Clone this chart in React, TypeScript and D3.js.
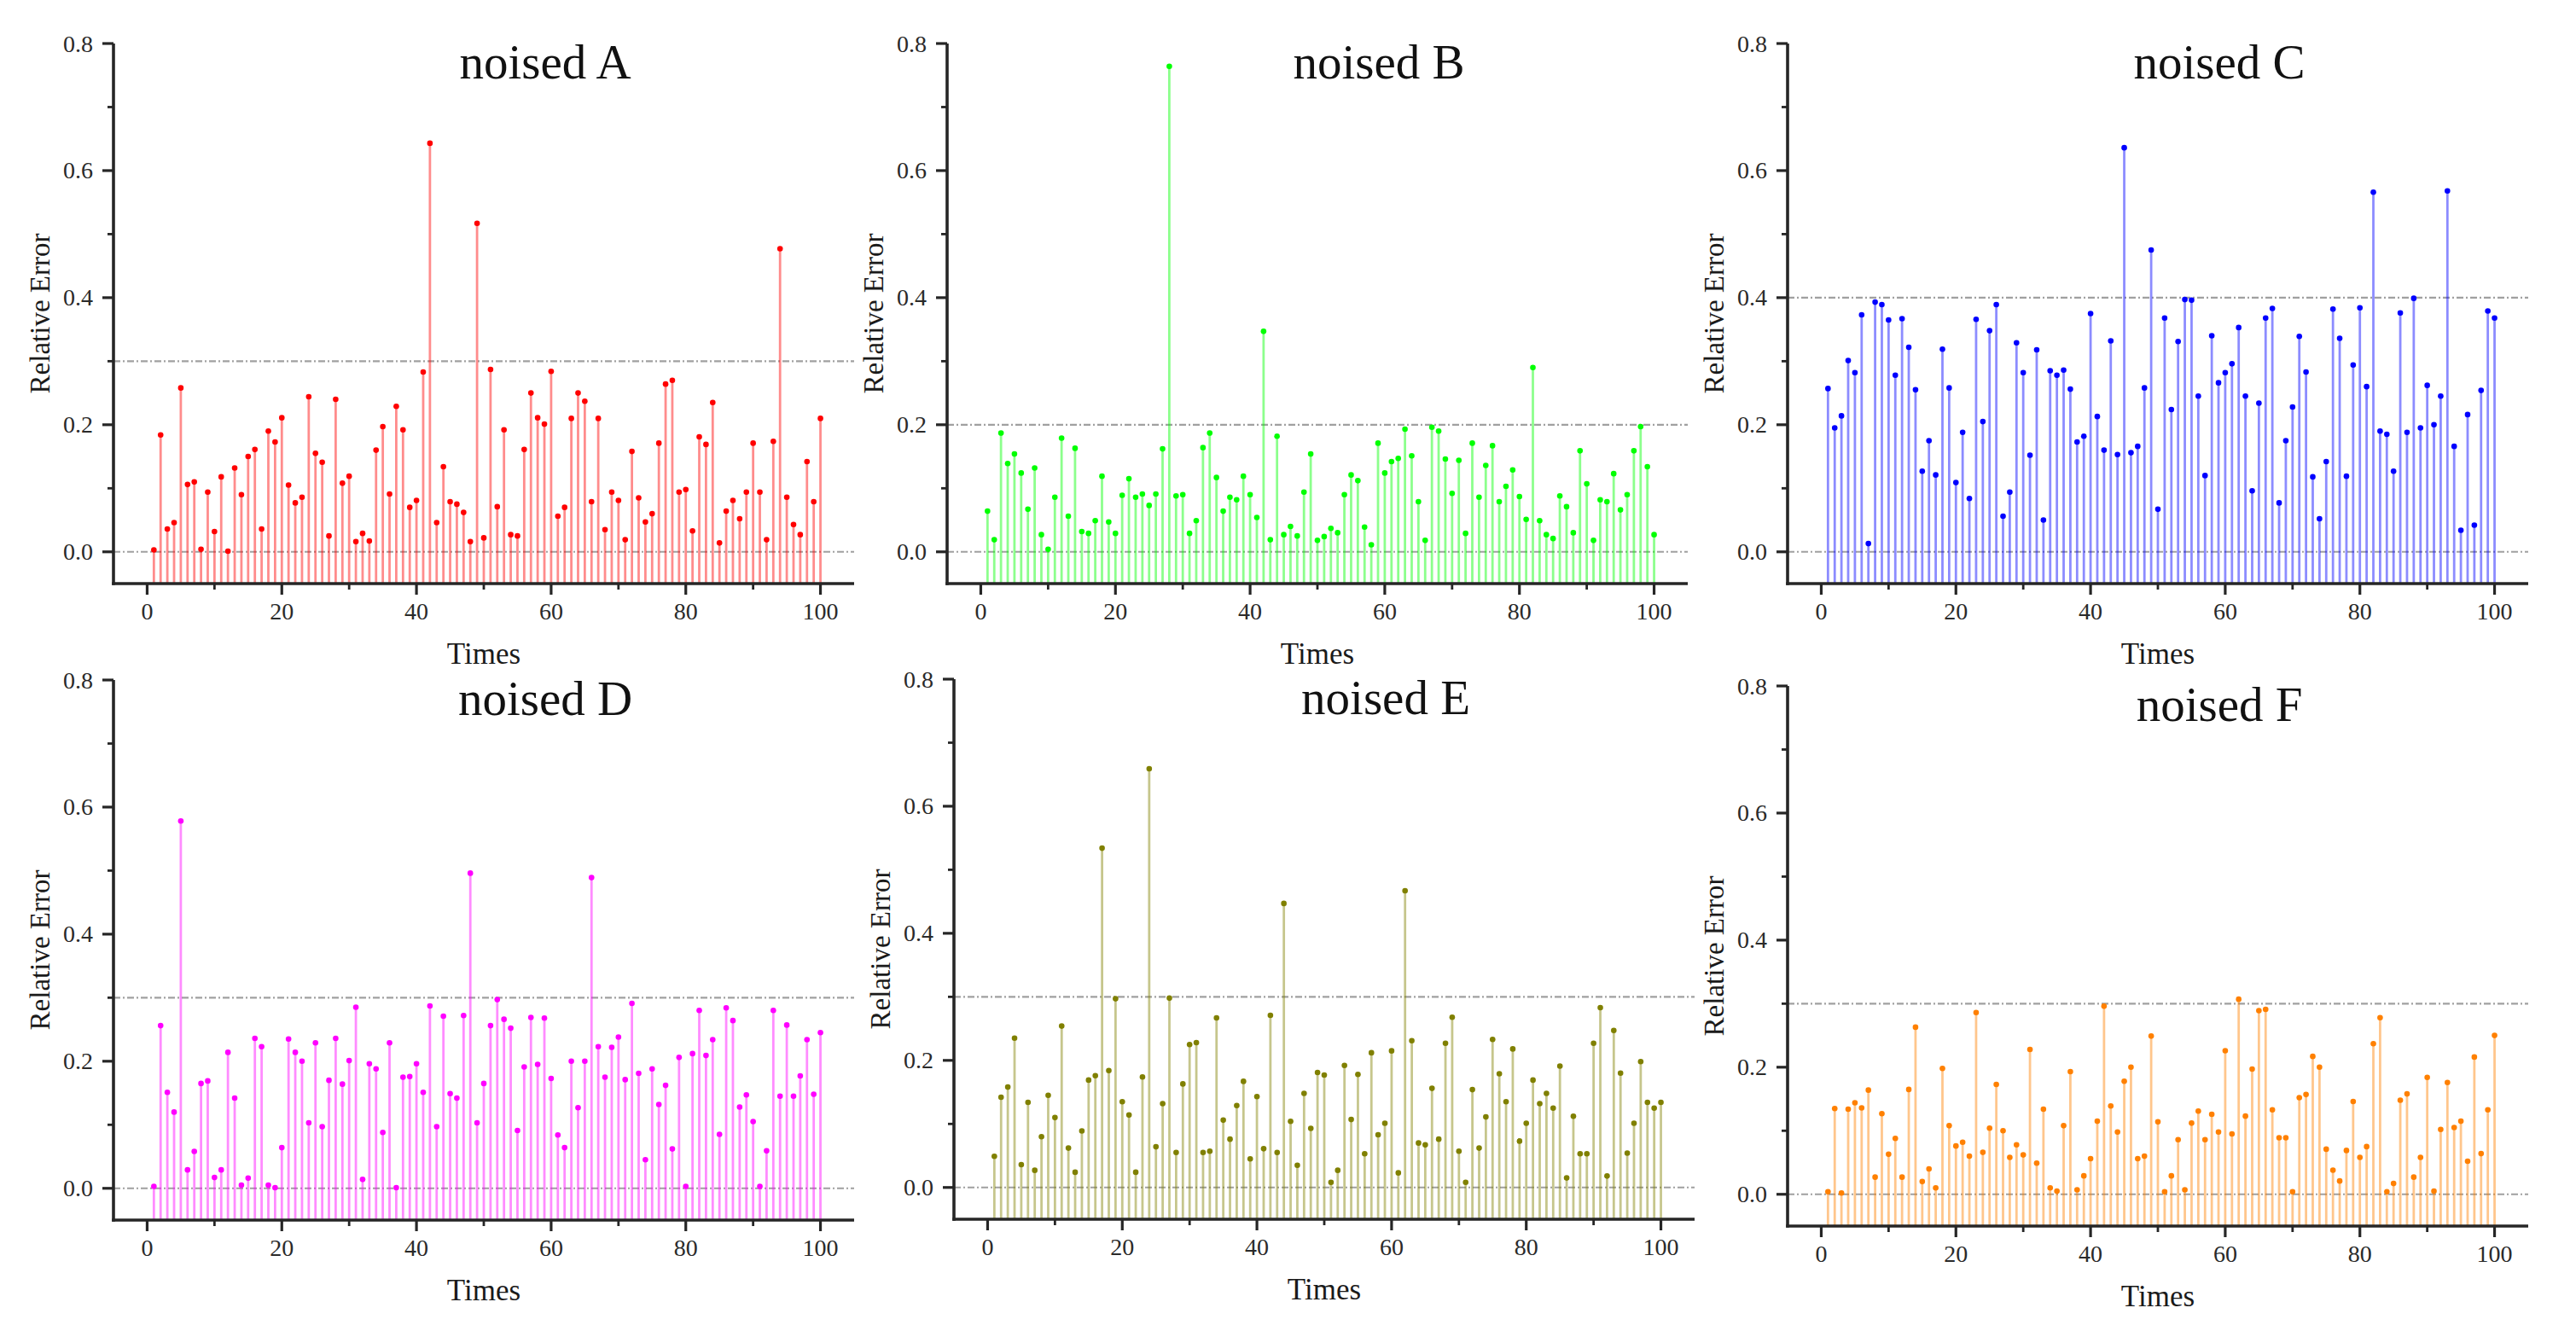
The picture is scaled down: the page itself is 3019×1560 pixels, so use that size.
import React from "react";
import * as d3 from "d3";

const times = d3.range(1, 101);

const titles = ["noised A", "noised B", "noised C", "noised D", "noised E", "noised F"];
const colors = ["#FF0000", "#00FF00", "#0000FF", "#FF00FF", "#808000", "#FF8000"];
const thresholds = [0.3, 0.2, 0.4, 0.3, 0.3, 0.3];
const yTicks = [0, 0.2, 0.4, 0.6, 0.8];
const yMinorTicks = [0.1, 0.3, 0.5, 0.7];
const xTicks = [0, 20, 40, 60, 80, 100];
const xMinorTicks = [10, 30, 50, 70, 90];

const seriesA = [
  0.003, 0.184, 0.036, 0.046, 0.258, 0.106, 0.110, 0.004, 0.094, 0.032,
  0.118, 0.001, 0.132, 0.090, 0.150, 0.161, 0.036, 0.190, 0.173, 0.211,
  0.105, 0.077, 0.086, 0.244, 0.155, 0.141, 0.025, 0.240, 0.108, 0.119,
  0.016, 0.029, 0.017, 0.160, 0.197, 0.091, 0.229, 0.192, 0.070, 0.081,
  0.283, 0.643, 0.046, 0.134, 0.079, 0.075, 0.062, 0.016, 0.517, 0.022,
  0.287, 0.071, 0.192, 0.027, 0.025, 0.161, 0.250, 0.211, 0.201, 0.284,
  0.056, 0.070, 0.210, 0.250, 0.237, 0.079, 0.210, 0.035, 0.094, 0.081,
  0.019, 0.158, 0.085, 0.047, 0.060, 0.171, 0.264, 0.270, 0.094, 0.098,
  0.033, 0.181, 0.169, 0.235, 0.014, 0.064, 0.081, 0.052, 0.094, 0.171,
  0.094, 0.019, 0.174, 0.477, 0.086, 0.043, 0.027, 0.142, 0.079, 0.210,
];

const seriesB = [
  0.064, 0.019, 0.187, 0.139, 0.154, 0.124, 0.067, 0.132, 0.027, 0.004,
  0.086, 0.179, 0.056, 0.163, 0.032, 0.029, 0.049, 0.119, 0.047, 0.029,
  0.089, 0.115, 0.086, 0.091, 0.073, 0.091, 0.162, 0.764, 0.088, 0.090,
  0.029, 0.049, 0.164, 0.187, 0.117, 0.064, 0.086, 0.082, 0.119, 0.090,
  0.054, 0.347, 0.019, 0.182, 0.027, 0.040, 0.025, 0.094, 0.154, 0.018,
  0.024, 0.037, 0.030, 0.090, 0.121, 0.112, 0.039, 0.011, 0.171, 0.124,
  0.142, 0.147, 0.193, 0.151, 0.079, 0.018, 0.196, 0.190, 0.146, 0.092,
  0.144, 0.029, 0.171, 0.086, 0.136, 0.167, 0.079, 0.103, 0.129, 0.087,
  0.051, 0.290, 0.049, 0.027, 0.021, 0.088, 0.071, 0.030, 0.159, 0.107,
  0.018, 0.082, 0.079, 0.123, 0.066, 0.090, 0.159, 0.197, 0.134, 0.027,
];

const seriesC = [
  0.257, 0.195, 0.214, 0.301, 0.282, 0.373, 0.013, 0.393, 0.389, 0.365,
  0.278, 0.367, 0.322, 0.255, 0.127, 0.175, 0.121, 0.319, 0.258, 0.109,
  0.188, 0.084, 0.366, 0.205, 0.348, 0.389, 0.056, 0.094, 0.329, 0.282,
  0.152, 0.318, 0.050, 0.285, 0.278, 0.286, 0.256, 0.173, 0.182, 0.375,
  0.213, 0.160, 0.332, 0.153, 0.636, 0.156, 0.166, 0.258, 0.475, 0.067,
  0.368, 0.224, 0.331, 0.397, 0.396, 0.245, 0.120, 0.340, 0.266, 0.282,
  0.296, 0.353, 0.245, 0.096, 0.234, 0.368, 0.383, 0.077, 0.175, 0.228,
  0.339, 0.283, 0.118, 0.052, 0.142, 0.382, 0.336, 0.119, 0.294, 0.384,
  0.260, 0.566, 0.190, 0.185, 0.127, 0.376, 0.188, 0.399, 0.195, 0.262,
  0.200, 0.245, 0.568, 0.166, 0.034, 0.216, 0.042, 0.254, 0.379, 0.368,
];

const seriesD = [
  0.003, 0.256, 0.151, 0.120, 0.578, 0.029, 0.058, 0.165, 0.169, 0.017,
  0.029, 0.214, 0.142, 0.005, 0.016, 0.236, 0.223, 0.005, 0.001, 0.064,
  0.235, 0.214, 0.200, 0.103, 0.229, 0.097, 0.170, 0.236, 0.164, 0.201,
  0.285, 0.014, 0.196, 0.188, 0.088, 0.229, 0.001, 0.175, 0.176, 0.196,
  0.151, 0.287, 0.097, 0.271, 0.149, 0.142, 0.272, 0.496, 0.103, 0.165,
  0.256, 0.297, 0.266, 0.252, 0.091, 0.191, 0.269, 0.195, 0.268, 0.173,
  0.084, 0.064, 0.200, 0.127, 0.200, 0.489, 0.223, 0.175, 0.222, 0.238,
  0.171, 0.291, 0.181, 0.045, 0.188, 0.132, 0.162, 0.062, 0.206, 0.003,
  0.212, 0.280, 0.209, 0.234, 0.085, 0.284, 0.264, 0.128, 0.147, 0.105,
  0.003, 0.059, 0.280, 0.145, 0.257, 0.145, 0.177, 0.234, 0.148, 0.245,
];

const seriesE = [
  0.049, 0.142, 0.158, 0.235, 0.036, 0.134, 0.027, 0.080, 0.145, 0.110,
  0.254, 0.062, 0.024, 0.089, 0.169, 0.176, 0.534, 0.184, 0.297, 0.135,
  0.114, 0.024, 0.174, 0.659, 0.064, 0.132, 0.298, 0.055, 0.163, 0.225,
  0.228, 0.055, 0.057, 0.267, 0.106, 0.076, 0.129, 0.167, 0.045, 0.143,
  0.061, 0.271, 0.055, 0.447, 0.104, 0.035, 0.148, 0.093, 0.181, 0.177,
  0.008, 0.027, 0.192, 0.107, 0.178, 0.053, 0.212, 0.083, 0.101, 0.215,
  0.023, 0.467, 0.231, 0.070, 0.067, 0.156, 0.076, 0.227, 0.268, 0.057,
  0.008, 0.154, 0.062, 0.111, 0.233, 0.179, 0.135, 0.218, 0.073, 0.101,
  0.169, 0.132, 0.148, 0.125, 0.191, 0.015, 0.112, 0.053, 0.053, 0.227,
  0.283, 0.018, 0.247, 0.180, 0.054, 0.101, 0.198, 0.134, 0.125, 0.134,
];

const seriesF = [
  0.004, 0.135, 0.002, 0.134, 0.144, 0.136, 0.164, 0.027, 0.127, 0.063,
  0.088, 0.027, 0.165, 0.263, 0.020, 0.040, 0.010, 0.198, 0.108, 0.076,
  0.082, 0.060, 0.286, 0.066, 0.104, 0.173, 0.100, 0.058, 0.078, 0.062,
  0.228, 0.049, 0.134, 0.010, 0.005, 0.108, 0.193, 0.007, 0.029, 0.056,
  0.115, 0.296, 0.139, 0.098, 0.178, 0.200, 0.056, 0.060, 0.249, 0.114,
  0.004, 0.029, 0.086, 0.007, 0.112, 0.131, 0.086, 0.126, 0.098, 0.226,
  0.095, 0.307, 0.123, 0.197, 0.289, 0.291, 0.133, 0.089, 0.089, 0.004,
  0.152, 0.157, 0.217, 0.200, 0.071, 0.038, 0.021, 0.069, 0.146, 0.058,
  0.075, 0.237, 0.278, 0.004, 0.017, 0.148, 0.158, 0.027, 0.058, 0.184,
  0.005, 0.102, 0.176, 0.105, 0.115, 0.052, 0.216, 0.064, 0.133, 0.250,
];

const allSeries = [seriesA, seriesB, seriesC, seriesD, seriesE, seriesF];

// layout (pixels) for each panel: left edge of plot, top (y = 0.8)
const panelLeft = [133, 1110, 2095, 133, 1118, 2095];
const panelTop = [51, 51, 51, 797, 796, 804];
const plotW = 868;
const plotH = 633;

const FONT = "'Liberation Serif', 'Times New Roman', serif";

function Panel({ idx }: { idx: number }) {
  const values = allSeries[idx];
  const color = colors[idx];
  const x = d3.scaleLinear().domain([-5, 105]).range([0, plotW]);
  const y = d3.scaleLinear().domain([-0.05, 0.8]).range([plotH, 0]);
  const left = panelLeft[idx];
  const top = panelTop[idx];
  const refDash = "8,3,2,3";
  const axisColor = "#262626";
  return (
    <g transform={`translate(${left},${top})`}>
      {/* reference lines */}
      {[0, thresholds[idx]].map((v, i) => (
        <line key={"ref" + i} x1={0} x2={plotW} y1={y(v)} y2={y(v)} stroke="#a0a0a0" strokeWidth={2.2} strokeDasharray={refDash} />
      ))}
      {/* stems */}
      {values.map((v, i) => (
        <line key={"s" + i} x1={x(times[i])} x2={x(times[i])} y1={y(v)} y2={plotH} stroke={color} strokeOpacity={0.45} strokeWidth={2.8} />
      ))}
      {/* markers */}
      {values.map((v, i) => (
        <circle key={"m" + i} cx={x(times[i])} cy={y(v)} r={3.3} fill={color} />
      ))}
      {/* axes */}
      <line x1={0} x2={0} y1={y(0.8)} y2={plotH + 1.8} stroke={axisColor} strokeWidth={3.6} />
      <line x1={-1.8} x2={plotW} y1={plotH} y2={plotH} stroke={axisColor} strokeWidth={3.6} />
      {yTicks.map((t) => (
        <g key={"yt" + t}>
          <line x1={-13} x2={0} y1={y(t)} y2={y(t)} stroke={axisColor} strokeWidth={3.2} />
          <text x={-24} y={y(t)} dy="0.34em" textAnchor="end" fontFamily={FONT} fontSize={28} fill="#2a2a2a">
            {d3.format(".1f")(t)}
          </text>
        </g>
      ))}
      {yMinorTicks.map((t) => (
        <line key={"ym" + t} x1={-7} x2={0} y1={y(t)} y2={y(t)} stroke={axisColor} strokeWidth={2.8} />
      ))}
      {xTicks.map((t) => (
        <g key={"xt" + t}>
          <line x1={x(t)} x2={x(t)} y1={plotH} y2={plotH + 13} stroke={axisColor} strokeWidth={3.2} />
          <text x={x(t)} y={plotH + 42} textAnchor="middle" fontFamily={FONT} fontSize={28} fill="#2a2a2a">
            {t}
          </text>
        </g>
      ))}
      {xMinorTicks.map((t) => (
        <line key={"xm" + t} x1={x(t)} x2={x(t)} y1={plotH} y2={plotH + 7} stroke={axisColor} strokeWidth={2.8} />
      ))}
      {/* axis titles */}
      <text x={plotW / 2} y={plotH + 94} textAnchor="middle" fontFamily={FONT} fontSize={35} fill="#1a1a1a">
        Times
      </text>
      <text
        transform={`translate(${-75},${plotH / 2}) rotate(-90)`}
        textAnchor="middle"
        fontFamily={FONT}
        fontSize={33}
        fill="#1a1a1a"
      >
        Relative Error
      </text>
      {/* title */}
      <text x={plotW * 0.583} y={41} textAnchor="middle" fontFamily={FONT} fontSize={57} fill="#111">
        {titles[idx]}
      </text>
    </g>
  );
}

export default function App() {
  return (
    <svg
      width={3019}
      height={1560}
      viewBox="0 0 3019 1560"
      style={{ position: "absolute", left: 0, top: 0, background: "#fff" }}
    >
      <rect x={0} y={0} width={3019} height={1560} fill="#fff" />
      {titles.map((_, i) => (
        <Panel key={i} idx={i} />
      ))}
    </svg>
  );
}
